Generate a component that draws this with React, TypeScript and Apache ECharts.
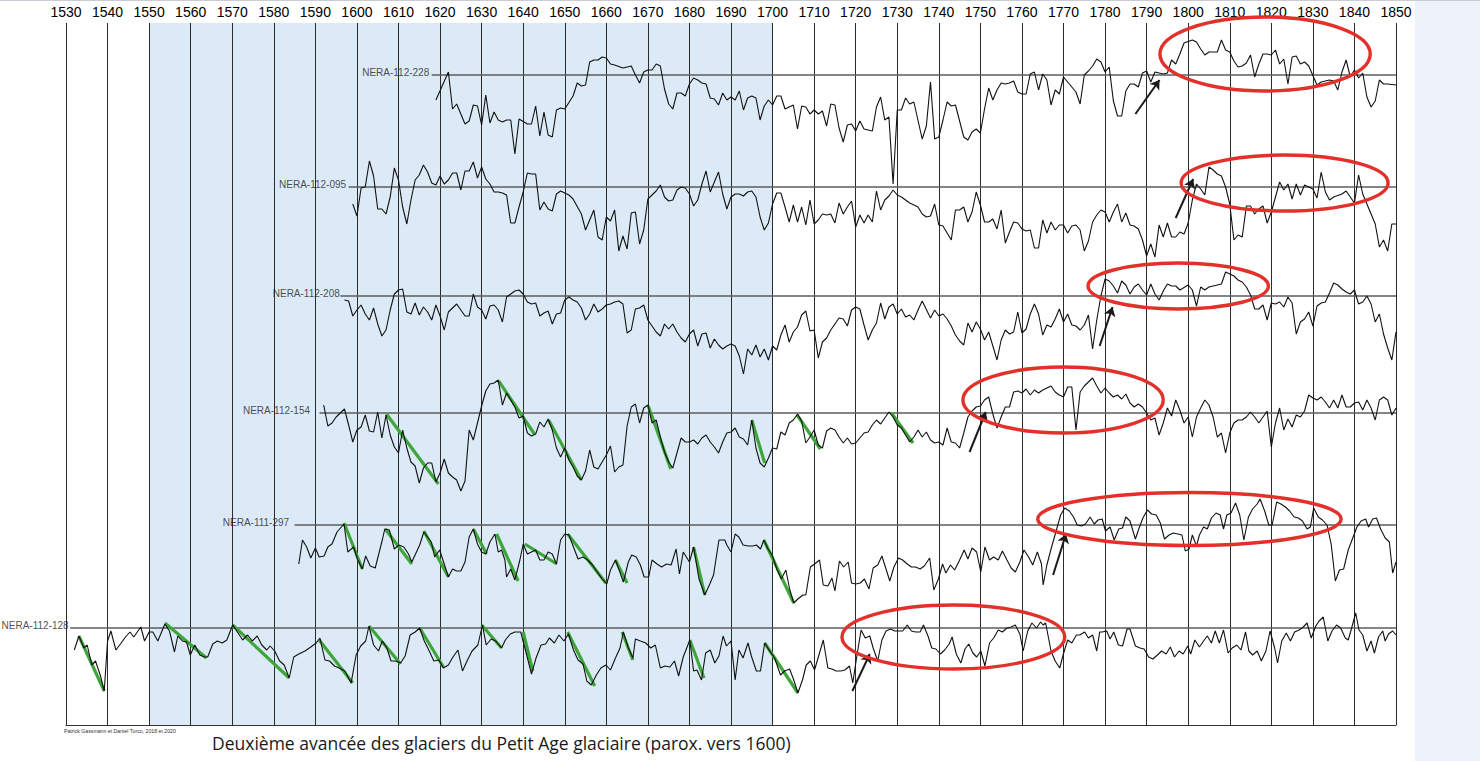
import React, { useEffect, useRef } from "react";
import * as echarts from "echarts";

// ---------- axis / layout constants ----------
const YEAR_MIN = 1530;
const YEAR_MAX = 1850;
const YEAR_STEP = 10;
const SHADED_PERIOD = [1550, 1700];

// ---------- series meta ----------
const SERIES_NAMES = ["NERA-112-228", "NERA-112-095", "NERA-112-208", "NERA-112-154", "NERA-111-297", "NERA-112-128"];
// vertical offset of each curve's reference line (axis units)
const BASELINES = [650, 538, 429, 312, 200, 97];
const REF_START = [1618, 1598, 1596, 1591, 1585, 1531];
const LABEL_GAP = [2, 2, 0, 9, 5, 1];

// ---------- series values: [year, deviation from reference line] ----------
const S228 = [[1619,-25],[1622,3],[1623,-34],[1624,-29],[1626,-49],[1627,-46],[1628,-30],[1629,-31],[1630,-50],[1631,-20],[1632,-48],[1633,-37],[1634,-45],[1635,-47],[1636,-45],[1637,-45],[1638,-79],[1639,-44],[1641,-49],[1642,-49],[1643,-31],[1644,-61],[1645,-37],[1646,-60],[1647,-62],[1648,-35],[1649,-33],[1650,-34],[1652,-21],[1653,-8],[1654,-11],[1655,-10],[1656,13],[1657,15],[1658,15],[1659,18],[1660,17],[1661,11],[1662,10],[1664,7],[1665,8],[1666,9],[1667,0],[1668,-8],[1669,3],[1670,5],[1671,5],[1672,11],[1673,9],[1674,-14],[1675,-29],[1676,-34],[1677,-18],[1678,-18],[1679,-21],[1680,-9],[1681,-3],[1682,-5],[1683,-8],[1684,-9],[1685,-23],[1686,-24],[1687,-30],[1688,-18],[1689,-25],[1690,-22],[1691,-25],[1692,-16],[1693,-35],[1694,-23],[1695,-21],[1696,-23],[1697,-45],[1698,-31],[1699,-25],[1700,-30],[1701,-21],[1702,-21],[1703,-34],[1704,-32],[1705,-30],[1706,-54],[1707,-31],[1708,-32],[1709,-39],[1710,-35],[1711,-39],[1712,-36],[1713,-51],[1714,-29],[1715,-30],[1716,-53],[1717,-67],[1718,-50],[1719,-49],[1720,-56],[1721,-46],[1722,-54],[1723,-55],[1724,-56],[1725,-32],[1726,-22],[1727,-45],[1728,-42],[1729,-109],[1730,-35],[1731,-35],[1732,-23],[1733,-29],[1734,-27],[1736,-64],[1737,-51],[1738,-7],[1739,-64],[1740,-62],[1741,-45],[1742,-27],[1743,-31],[1744,-30],[1746,-62],[1747,-65],[1748,-57],[1749,-54],[1750,-58],[1751,-34],[1752,-13],[1753,-25],[1754,-15],[1755,-8],[1756,-9],[1757,-8],[1758,-6],[1759,-17],[1760,-19],[1761,-19],[1762,1],[1763,3],[1764,-15],[1765,1],[1766,-5],[1767,-30],[1768,-15],[1769,-19],[1770,-2],[1771,-7],[1772,-12],[1773,-17],[1774,-29],[1775,0],[1776,4],[1777,9],[1778,16],[1779,13],[1780,3],[1781,8],[1782,-26],[1783,-41],[1784,-41],[1785,-16],[1786,-9],[1787,-9],[1788,-12],[1789,2],[1790,4],[1791,-7],[1792,3],[1793,2],[1794,1],[1795,2],[1796,15],[1797,11],[1798,21],[1799,32],[1801,35],[1802,33],[1803,26],[1804,20],[1805,23],[1806,23],[1807,23],[1808,35],[1809,25],[1810,23],[1811,14],[1812,8],[1813,9],[1814,12],[1815,20],[1816,-2],[1817,11],[1818,21],[1819,21],[1820,20],[1821,25],[1822,11],[1823,16],[1824,-9],[1825,18],[1826,19],[1827,11],[1828,13],[1829,9],[1831,-10],[1832,-7],[1834,-5],[1835,-6],[1836,-15],[1837,3],[1838,15],[1839,-2],[1840,5],[1841,-3],[1842,2],[1843,-22],[1844,-32],[1845,-26],[1846,-5],[1847,-9],[1848,-9],[1850,-10]];

const S095 = [[1599,-17],[1600,-29],[1601,-1],[1602,0],[1603,26],[1604,11],[1605,-22],[1606,-22],[1607,-27],[1608,-10],[1609,19],[1610,7],[1611,-20],[1612,-37],[1613,-13],[1614,7],[1615,12],[1616,22],[1617,15],[1618,4],[1619,2],[1620,11],[1621,3],[1622,7],[1623,14],[1624,14],[1625,-3],[1626,16],[1627,16],[1628,25],[1629,9],[1630,20],[1631,8],[1632,3],[1633,-5],[1634,-5],[1635,-6],[1636,-8],[1637,-36],[1638,-36],[1639,-20],[1640,-5],[1641,14],[1642,13],[1643,13],[1644,-23],[1645,-15],[1646,-22],[1647,-24],[1648,-7],[1649,-4],[1651,-8],[1652,-12],[1654,-27],[1655,-43],[1656,-33],[1657,-23],[1658,-50],[1659,-53],[1660,-30],[1661,-34],[1662,-23],[1663,-64],[1664,-49],[1665,-62],[1666,-26],[1667,-25],[1668,-57],[1669,-43],[1670,-12],[1671,-8],[1672,-4],[1673,2],[1674,-10],[1675,-14],[1676,-13],[1677,-3],[1678,0],[1679,-1],[1680,-7],[1681,-19],[1682,-13],[1683,3],[1684,16],[1685,-5],[1686,5],[1687,15],[1688,-7],[1689,-22],[1690,-10],[1691,-7],[1692,-7],[1693,-9],[1694,-5],[1695,-4],[1696,-10],[1697,-30],[1698,-43],[1699,-36],[1700,-17],[1701,-6],[1702,-6],[1703,-20],[1704,-35],[1705,-18],[1706,-35],[1707,-20],[1708,-38],[1709,-13],[1710,-37],[1711,-33],[1712,-27],[1713,-28],[1714,-27],[1715,-36],[1716,-16],[1717,-27],[1718,-20],[1719,-14],[1720,-40],[1721,-28],[1722,-36],[1723,-28],[1724,-35],[1725,-4],[1726,-23],[1727,-13],[1728,-9],[1729,-3],[1730,-8],[1731,-10],[1732,-13],[1733,-16],[1735,-20],[1736,-27],[1737,-30],[1738,-29],[1739,-17],[1740,-38],[1741,-39],[1742,-46],[1743,-53],[1744,-23],[1745,-23],[1746,-20],[1747,-35],[1748,-25],[1749,-5],[1750,-18],[1751,-35],[1752,-35],[1753,-32],[1754,-42],[1755,-23],[1756,-56],[1757,-45],[1758,-35],[1759,-36],[1760,-42],[1761,-44],[1762,-43],[1763,-61],[1764,-61],[1765,-33],[1766,-46],[1767,-35],[1768,-43],[1769,-38],[1770,-38],[1771,-46],[1772,-39],[1773,-38],[1774,-43],[1775,-64],[1776,-54],[1777,-35],[1778,-28],[1779,-23],[1780,-25],[1781,-35],[1782,-25],[1783,-17],[1784,-35],[1785,-26],[1786,-38],[1787,-39],[1788,-42],[1789,-53],[1790,-69],[1791,-57],[1792,-70],[1793,-38],[1794,-50],[1795,-36],[1796,-50],[1797,-50],[1798,-45],[1799,-47],[1800,-36],[1801,-13],[1802,3],[1803,-2],[1804,-8],[1805,20],[1806,17],[1807,13],[1808,11],[1809,0],[1810,-17],[1811,-53],[1812,-48],[1813,-50],[1814,-19],[1815,-19],[1816,-27],[1817,-22],[1818,-19],[1819,-36],[1820,-25],[1821,-10],[1822,5],[1823,-3],[1824,3],[1825,-12],[1826,3],[1827,-8],[1828,2],[1829,0],[1830,-2],[1831,-11],[1832,15],[1833,-5],[1834,-13],[1835,-10],[1837,-7],[1838,-4],[1839,-10],[1840,-16],[1841,12],[1842,-7],[1843,-17],[1844,-27],[1845,-37],[1846,-60],[1847,-53],[1848,-64],[1849,-37],[1850,-37]];

const S208 = [[1597,-4],[1598,-5],[1599,-20],[1600,-14],[1601,-9],[1602,-18],[1603,-24],[1604,-12],[1605,-28],[1606,-40],[1607,-34],[1608,-14],[1609,2],[1610,6],[1611,7],[1612,-16],[1613,-18],[1614,-7],[1615,-19],[1616,-11],[1617,-16],[1618,-24],[1619,-9],[1620,-20],[1621,-34],[1622,-16],[1623,-12],[1624,-8],[1625,-14],[1626,-20],[1627,-20],[1628,2],[1629,-11],[1630,-14],[1631,-23],[1632,-10],[1633,-9],[1634,-14],[1635,-26],[1636,-1],[1637,2],[1638,5],[1639,6],[1640,2],[1641,-6],[1642,-8],[1643,-7],[1644,-20],[1645,-17],[1646,-15],[1647,-28],[1648,-18],[1649,-17],[1650,-4],[1651,-1],[1652,-4],[1653,-6],[1654,-12],[1655,-24],[1656,-18],[1657,-8],[1658,-16],[1659,-13],[1660,-9],[1661,-8],[1662,-6],[1663,-5],[1664,-8],[1665,-37],[1666,-34],[1667,-13],[1668,-12],[1669,-9],[1670,-24],[1671,-30],[1672,-36],[1673,-40],[1674,-28],[1675,-33],[1676,-28],[1677,-36],[1678,-42],[1679,-46],[1680,-38],[1681,-34],[1682,-50],[1683,-38],[1684,-37],[1685,-52],[1686,-43],[1687,-49],[1688,-53],[1689,-50],[1690,-48],[1691,-50],[1692,-60],[1693,-78],[1694,-53],[1695,-59],[1696,-49],[1697,-61],[1698,-53],[1699,-64],[1700,-50],[1701,-54],[1702,-39],[1703,-29],[1704,-46],[1705,-36],[1706,-31],[1707,-19],[1708,-15],[1709,-35],[1710,-34],[1711,-62],[1712,-46],[1713,-42],[1714,-34],[1715,-28],[1716,-22],[1717,-23],[1718,-30],[1719,-14],[1720,-11],[1721,-13],[1722,-29],[1723,-44],[1724,-34],[1725,-27],[1726,-7],[1727,-23],[1728,-11],[1729,-8],[1730,-18],[1731,-13],[1732,-21],[1733,-19],[1734,-24],[1735,-14],[1736,-5],[1738,-22],[1739,-14],[1740,-20],[1741,-18],[1742,-23],[1743,-30],[1744,-39],[1745,-45],[1746,-49],[1747,-27],[1748,-36],[1749,-26],[1750,-33],[1751,-44],[1752,-36],[1753,-50],[1754,-64],[1755,-44],[1756,-34],[1757,-38],[1758,-36],[1759,-16],[1760,-37],[1761,-33],[1762,-18],[1763,-8],[1764,-18],[1765,-39],[1766,-29],[1767,-31],[1768,-23],[1769,-13],[1770,-26],[1771,-18],[1772,-29],[1773,-30],[1774,-34],[1775,-29],[1776,-19],[1777,-53],[1778,-24],[1779,0],[1780,17],[1781,15],[1782,10],[1783,3],[1784,15],[1785,11],[1786,2],[1787,9],[1788,12],[1789,6],[1790,1],[1791,12],[1792,2],[1793,-4],[1794,5],[1795,12],[1796,10],[1797,10],[1798,6],[1800,11],[1801,6],[1802,-10],[1803,9],[1804,6],[1805,9],[1806,10],[1807,11],[1808,12],[1809,24],[1810,22],[1811,20],[1812,16],[1813,14],[1814,9],[1815,1],[1816,-13],[1817,-13],[1818,-9],[1819,-24],[1820,-7],[1821,-8],[1822,-6],[1823,-11],[1824,-1],[1825,-7],[1826,-38],[1827,-26],[1828,-23],[1829,-16],[1830,-30],[1831,-10],[1832,-7],[1833,-6],[1834,3],[1835,13],[1836,11],[1837,7],[1838,4],[1839,2],[1840,6],[1841,-8],[1842,-6],[1843,0],[1844,-8],[1845,-26],[1846,-18],[1847,-38],[1848,-52],[1849,-64],[1850,-36]];

const S154 = [[1592,8],[1593,-13],[1594,-10],[1595,-4],[1597,4],[1598,-12],[1599,-29],[1600,-17],[1601,-14],[1602,-2],[1603,-18],[1604,-19],[1605,1],[1606,-25],[1607,-2],[1608,-22],[1609,-34],[1610,-40],[1611,-17],[1612,-35],[1613,-49],[1614,-53],[1615,-70],[1616,-55],[1617,-50],[1618,-50],[1619,-69],[1620,-60],[1621,-46],[1622,-60],[1623,-64],[1624,-67],[1625,-78],[1626,-68],[1627,-17],[1628,-27],[1629,-10],[1630,7],[1631,22],[1632,29],[1633,30],[1634,33],[1635,8],[1636,20],[1637,13],[1638,6],[1639,-5],[1640,-3],[1641,-20],[1642,-23],[1643,-21],[1644,-9],[1645,-14],[1646,-6],[1647,-17],[1648,-35],[1649,-44],[1650,-35],[1651,-47],[1652,-54],[1653,-63],[1654,-67],[1655,-58],[1656,-37],[1657,-54],[1658,-56],[1659,-49],[1660,-42],[1661,-33],[1662,-59],[1663,-54],[1664,-52],[1665,-13],[1666,6],[1667,9],[1668,-10],[1669,5],[1670,8],[1671,-10],[1672,-7],[1673,-24],[1674,-39],[1675,-49],[1676,-55],[1677,-40],[1678,-25],[1679,-29],[1680,-29],[1681,-27],[1682,-31],[1683,-25],[1684,-22],[1685,-29],[1686,-34],[1687,-40],[1688,-29],[1689,-20],[1690,-19],[1691,-15],[1692,-24],[1693,-26],[1694,-32],[1695,-7],[1696,-35],[1697,-50],[1698,-54],[1699,-45],[1700,-35],[1701,-36],[1702,-19],[1703,-22],[1704,-10],[1705,-7],[1706,-1],[1707,-8],[1708,-30],[1709,-24],[1710,-17],[1711,-32],[1712,-35],[1713,-18],[1714,-15],[1715,-17],[1716,-24],[1717,-30],[1718,-25],[1719,-31],[1720,-30],[1721,-25],[1722,-20],[1723,-19],[1724,-12],[1725,-7],[1726,-11],[1727,-5],[1728,1],[1729,-4],[1730,-12],[1731,-15],[1732,-22],[1733,-29],[1734,-24],[1735,-17],[1736,-24],[1737,-19],[1738,-27],[1739,-30],[1740,-29],[1741,-32],[1742,-15],[1743,-29],[1744,-30],[1745,-35],[1746,-20],[1747,-4],[1748,2],[1749,6],[1750,7],[1751,13],[1752,16],[1753,-1],[1754,-15],[1755,-4],[1756,6],[1757,6],[1758,21],[1759,22],[1760,20],[1761,24],[1762,18],[1763,23],[1764,20],[1765,23],[1766,25],[1767,27],[1768,21],[1769,18],[1770,16],[1771,26],[1772,26],[1773,-17],[1774,21],[1775,27],[1776,31],[1777,35],[1778,27],[1779,20],[1780,25],[1781,20],[1782,16],[1783,18],[1784,14],[1785,19],[1786,10],[1787,6],[1788,9],[1789,6],[1790,0],[1791,-7],[1792,-5],[1793,-22],[1794,-10],[1795,5],[1796,-3],[1797,13],[1798,3],[1799,-10],[1800,-4],[1801,-24],[1802,-4],[1803,5],[1804,13],[1805,8],[1806,-4],[1807,-24],[1808,-20],[1809,-40],[1810,-20],[1811,-10],[1812,-7],[1813,-7],[1814,-4],[1815,1],[1816,-4],[1817,-10],[1818,-4],[1819,2],[1820,-34],[1821,-10],[1822,5],[1823,-17],[1824,-6],[1825,-14],[1826,-2],[1827,-4],[1828,2],[1829,18],[1830,15],[1831,13],[1832,16],[1833,11],[1834,5],[1835,13],[1836,5],[1837,18],[1838,6],[1839,6],[1840,10],[1841,11],[1842,3],[1843,13],[1844,5],[1845,-7],[1846,13],[1847,16],[1848,13],[1849,-2],[1850,5]];

const S297 = [[1586.0,-39],[1586.9,-15],[1587.9,-22],[1588.9,-33],[1590.0,-23],[1590.9,-32],[1592.1,-31],[1593.0,-22],[1594.0,-19],[1595.2,-7],[1596.9,1],[1597.8,-27],[1599.2,-22],[1600.1,-34],[1601.3,-44],[1602.1,-31],[1603.2,-41],[1604.4,-43],[1606.1,-15],[1606.7,-4],[1607.8,-5],[1609.0,-24],[1610.1,-20],[1611.3,-22],[1612.4,-29],[1613.2,-37],[1614.1,-29],[1615.1,-20],[1616.1,-7],[1617.0,-12],[1617.9,-17],[1618.7,-32],[1619.9,-25],[1621.0,-39],[1622,-52],[1623,-44],[1624,-46],[1625,-46],[1626,-37],[1627,-12],[1628,-4],[1629,-19],[1630,-27],[1631,-29],[1632,-17],[1633.2,-9],[1634,-27],[1634.8,-25],[1635.6,-35],[1636,-52],[1637,-44],[1638,-55],[1639.2,-35],[1640,-19],[1641,-29],[1642,-27],[1643,-25],[1644,-35],[1645,-35],[1646,-27],[1647,-29],[1648,-39],[1649,-15],[1650,-9],[1651,-10],[1652.1,-22],[1653.2,-34],[1654.4,-32],[1655.5,-35],[1656.7,-40],[1657.8,-47],[1659.0,-54],[1660.1,-59],[1661.0,-45],[1662.2,-35],[1663.0,-44],[1664.1,-57],[1665.3,-37],[1666.1,-30],[1667.2,-32],[1668.2,-40],[1669.1,-52],[1670.2,-52],[1671.0,-35],[1672.2,-39],[1673.3,-42],[1674.5,-39],[1675.6,-40],[1676.8,-24],[1677.6,-49],[1678.5,-27],[1680.0,-37],[1681.0,-22],[1682.3,-54],[1683.7,-70],[1684.9,-59],[1685.8,-50],[1687.1,-15],[1688.5,-15],[1689.0,-20],[1690,-27],[1691,-9],[1691.9,-12],[1692.9,-20],[1694.1,-21],[1695.3,-21],[1696.1,-20],[1697.1,-24],[1697.9,-15],[1698.9,-24],[1699.9,-30],[1701.1,-45],[1702.1,-54],[1703.2,-45],[1704.1,-64],[1705.1,-78],[1706.1,-74],[1707.3,-70],[1708,-70],[1709.1,-42],[1710.1,-39],[1711.3,-35],[1712.2,-60],[1713.3,-61],[1714.3,-53],[1715,-66],[1716.1,-36],[1717.1,-42],[1718.2,-37],[1719,-58],[1720,-59],[1721.1,-58],[1722.1,-54],[1723.2,-64],[1724.2,-43],[1725.3,-40],[1726.3,-31],[1727.3,-44],[1728.2,-56],[1729.2,-42],[1730.3,-33],[1731.3,-35],[1732.4,-39],[1733.4,-42],[1734.4,-42],[1735.5,-44],[1736.5,-41],[1737.8,-33],[1738.8,-65],[1739.9,-54],[1740.9,-39],[1741.7,-48],[1742.8,-40],[1743.8,-45],[1744.9,-36],[1746.1,-25],[1747,-34],[1748,-23],[1749.1,-27],[1750.1,-47],[1751.1,-22],[1752.2,-35],[1753.2,-32],[1754.3,-35],[1755.3,-26],[1756.4,-35],[1757.4,-43],[1758.4,-47],[1759.5,-37],[1760.5,-25],[1761.6,-32],[1762.6,-40],[1763.7,-27],[1764.7,-39],[1765.1,-60],[1766,-40],[1767,-24],[1768.3,-5],[1769.3,10],[1770.3,17],[1771.4,14],[1772.4,8],[1773.3,0],[1774.3,-1],[1775.3,1],[1776.4,8],[1777.4,1],[1778.3,5],[1779.3,6],[1780.1,-6],[1781.2,-2],[1782.2,-15],[1783.3,-4],[1784.2,-3],[1785,8],[1786,4],[1787.3,-14],[1788.1,-4],[1789.1,7],[1790.2,15],[1791.2,11],[1792.3,10],[1793.3,2],[1794.3,-14],[1795.4,-10],[1796.4,-8],[1797.5,-9],[1798.5,-10],[1799.3,-26],[1800.2,-24],[1801,-10],[1802,-21],[1802.7,-10],[1803.7,-2],[1804.6,-4],[1805.6,7],[1806.7,12],[1807.7,10],[1808.5,-4],[1809.3,10],[1810.3,12],[1811.4,22],[1812.4,10],[1813.4,-15],[1814.5,8],[1815.5,16],[1816.6,21],[1817.3,26],[1818.4,14],[1819.4,0],[1820.2,0],[1821.3,23],[1822.3,21],[1823.4,18],[1824.4,14],[1825.5,8],[1826.5,7],[1827.5,4],[1828.6,-4],[1829.4,-2],[1830.2,17],[1831.3,8],[1832.3,5],[1833.4,0],[1834.4,-19],[1835.4,-56],[1836.4,-45],[1837.4,-44],[1838.5,-25],[1839.5,-14],[1840.6,-2],[1841.6,4],[1842.7,6],[1843.4,-2],[1844.4,6],[1845.3,7],[1846.3,-4],[1847.4,-13],[1848.4,-17],[1849.2,-48],[1850,-37]];

const S128 = [[1532.0,-22],[1533.1,-8],[1534.3,-20],[1535.1,-17],[1536.2,-37],[1537.1,-33],[1538.3,-48],[1539.2,-63],[1540,-13],[1540.8,-3],[1542,-22],[1543.1,-16],[1544.3,-9],[1545.4,-4],[1546.3,-9],[1548,1],[1548.9,-13],[1550,-4],[1550.9,-4],[1552.1,-13],[1553.8,4],[1554.9,-3],[1556.1,-24],[1556.9,-8],[1558,-13],[1559,-14],[1559.9,-27],[1561,-17],[1562.2,-27],[1563.3,-29],[1564.1,-29],[1565.3,-16],[1566.4,-13],[1567.6,-15],[1568.7,-12],[1570.1,3],[1571.4,-5],[1572.5,-12],[1573.7,-7],[1574.8,-13],[1576,-8],[1577.1,-17],[1578.3,-22],[1579.1,-18],[1580.2,-23],[1581.4,-33],[1582.5,-37],[1583.7,-50],[1584.8,-29],[1586,-26],[1587.5,-23],[1588.9,-19],[1590.2,-15],[1591.1,-10],[1592.3,-32],[1593.4,-33],[1594.6,-38],[1595.7,-40],[1597.1,-43],[1598.6,-55],[1599.8,-27],[1600.9,-18],[1602.1,-13],[1602.9,2],[1604,-17],[1605.2,-23],[1606.1,-13],[1607.2,-20],[1608.2,-33],[1609.3,-33],[1610.5,-35],[1611.6,-28],[1612.8,-7],[1614,-4],[1615.1,0],[1616.2,-13],[1617.4,-23],[1618.5,-33],[1619.7,-32],[1620.8,-40],[1622,-37],[1623.1,-29],[1624.3,-22],[1625.4,-43],[1626.6,-32],[1627.7,-23],[1629.1,-17],[1630.2,3],[1631.1,-17],[1632.3,-11],[1633.4,-13],[1634.8,-20],[1635.7,-12],[1636.9,-6],[1638,-4],[1639.4,-4],[1640.6,-23],[1642,-46],[1643.1,-30],[1644.3,-17],[1645.4,-16],[1646.3,-10],[1647.5,-15],[1648.6,-7],[1649.8,-13],[1650.9,-6],[1652.1,-22],[1653.2,-32],[1654.4,-36],[1655.3,-53],[1656.4,-57],[1657.6,-47],[1658.7,-40],[1659.9,-37],[1661,-42],[1662.2,-30],[1663.3,-20],[1664.1,-4],[1665.3,-20],[1666.4,-30],[1667,-11],[1668.2,-13],[1669.5,-15],[1670.7,-20],[1671.8,-17],[1673,-40],[1674.1,-38],[1675.3,-39],[1676.4,-33],[1677.4,-48],[1678.5,-29],[1680.1,-12],[1681,-43],[1681.8,-42],[1682.9,-52],[1683.9,-25],[1685,-22],[1686.1,-35],[1687.1,-28],[1688.1,-8],[1688.9,-18],[1690,-13],[1691,-52],[1691.9,-22],[1692.9,-30],[1694.1,-15],[1694.9,-28],[1696.1,-43],[1697.1,-43],[1698.1,-15],[1699.3,-23],[1700.5,-30],[1701.9,-47],[1702.9,-43],[1704.1,-41],[1705.1,-52],[1706.1,-65],[1707.2,-52],[1708.1,-37],[1709.1,-33],[1710.1,-42],[1711.3,-25],[1712.2,-12],[1713.3,-40],[1714.3,-41],[1715.3,-43],[1716.4,-43],[1717.4,-42],[1718.5,-38],[1719.3,-55],[1720.2,-30],[1721.3,-2],[1722.3,-10],[1723.4,-8],[1724.2,-20],[1725.3,-33],[1726.3,-12],[1727.3,-3],[1728.4,-1],[1729.4,-3],[1730.5,-3],[1731.3,-3],[1732.4,3],[1733.4,-3],[1734.4,-4],[1735.5,-4],[1736.3,3],[1737.4,-8],[1738.3,-20],[1739.3,-21],[1740.4,-26],[1741.4,-22],[1742.5,-16],[1743.2,-9],[1744.2,-26],[1745.3,-35],[1746.3,-21],[1747.2,-16],[1748.2,-25],[1749.1,-29],[1750.1,-23],[1751.1,-38],[1752.2,-15],[1753.2,-10],[1754.3,-2],[1755.3,-4],[1756.4,0],[1757.4,1],[1758.4,3],[1759.5,-6],[1760.3,-23],[1761.4,-3],[1762.4,5],[1763.5,0],[1764.5,6],[1765.1,3],[1765.7,5],[1767,-23],[1768,-33],[1769.1,-40],[1769.9,-27],[1771,-12],[1772,-15],[1773.1,-7],[1773.9,-7],[1775.1,-4],[1776,-10],[1777,-7],[1778,-23],[1778.7,-4],[1779.3,-4],[1780.4,-3],[1781.2,-11],[1782.1,-4],[1783.2,-17],[1784.2,-18],[1785.3,-1],[1786,-1],[1787.3,-18],[1788.4,-20],[1789.4,-21],[1790.5,-29],[1791.5,-31],[1792.6,-27],[1793.6,-23],[1794.7,-26],[1795.7,-19],[1796.7,-29],[1797.8,-23],[1798.8,-26],[1799.9,-18],[1800.6,-26],[1801.6,-12],[1802.7,-19],[1803.7,-13],[1804.6,-8],[1805.6,-15],[1806.5,-3],[1807.5,-15],[1808.5,-2],[1809.6,-25],[1810.6,-20],[1811.7,-17],[1812.7,-22],[1813.8,-4],[1814.6,-23],[1815.5,-27],[1816.6,-23],[1817.6,-33],[1818.7,-23],[1819.7,-3],[1820.8,-20],[1821.5,-35],[1822.5,-13],[1823.6,-5],[1824.6,-13],[1825.6,-4],[1826.7,-2],[1827.7,1],[1828.6,5],[1829.6,-10],[1830.7,2],[1831.5,7],[1832.5,11],[1833.6,-13],[1834.6,-3],[1835.7,3],[1836.7,0],[1837.8,-10],[1838.5,-12],[1839.2,-2],[1840.3,15],[1841.1,-2],[1842,-7],[1843,-23],[1844,-13],[1844.8,-25],[1845.8,-9],[1846.8,-3],[1847.4,-13],[1848.2,-6],[1849.2,-3],[1850,-7]];

const SERIES_VALUES = [S228, S095, S208, S154, S297, S128];

// green decline segments: [seriesIndex, year1, dev1, year2, dev2]
const DECLINES = [
  [3,1607.1,-1,1619.6,-71],[3,1634.1,32,1642.7,-21],[3,1646.1,-7,1654.0,-67],[3,1670.1,7,1675.5,-56],[3,1695.0,-7,1698.1,-50],[3,1705.9,-2,1711.5,-36],[3,1728.6,0,1733.8,-30],
  [4,1596.9,2,1601.3,-44],[4,1606.8,-4,1613.2,-39],[4,1616.1,-6,1622,-52],[4,1628,-4,1631.2,-29],[4,1633.6,-9,1638.8,-56],[4,1640.4,-19,1648.1,-39],[4,1650.7,-9,1659.9,-58],[4,1662.2,-35,1665,-58],[4,1681,-22,1683.7,-70],[4,1697.9,-15,1705.1,-78],
  [5,1533.1,-8,1539.2,-63],[5,1553.8,5,1563.8,-30],[5,1570.1,3,1583.7,-50],[5,1590.9,-12,1599,-55],[5,1602.9,2,1610.5,-36],[5,1615.1,0,1620.8,-39],[5,1630,3,1634.8,-20],[5,1640,-4,1642.3,-43],[5,1650.7,-4,1657.2,-58],[5,1663.8,-4,1666.4,-32],[5,1680.1,-12,1683.5,-50],[5,1698.1,-15,1706.1,-65],
];

// arrows marking the onset of growth recovery: [seriesIndex, year1, dev1, year2, dev2]
const ARROWS = [
  [0,1787.3,-39,1793.1,-5],[1,1797.0,-31,1801.2,8],[2,1778.7,-50,1781.8,-11],
  [3,1747.4,-39,1751.3,1],[4,1767.5,-50,1770.6,-9],[5,1719.2,-63,1723.4,-26],
];

// highlighted periods: [seriesIndex, centerYear, centerDev, halfSpanYears, halfSpanDev]
const HIGHLIGHTS = [
  [0,1818.5,21,25.3,37],[1,1823.2,4,24.9,28],[2,1797.6,10,21.7,23],
  [3,1769.9,13,24.1,33],[4,1800.3,6,36.5,26.5],[5,1743.5,-9,26.8,32],
];

const TITLE = "Deuxième avancée des glaciers du Petit Age glaciaire (parox. vers 1600)";
const CREDIT = "Patrick Gassmann et Daniel Turcu, 2018 et 2020";

const Y_MAX = 702;
const FONT = "'Liberation Sans', Arial, sans-serif";

export default function App() {
  const ref = useRef<HTMLDivElement>(null);

  useEffect(() => {
    document.body.style.margin = "0";
    if (!ref.current) return;
    const chart = echarts.init(ref.current, null, { renderer: "svg" });

    const series: any[] = [];

    // shaded period
    series.push({
      type: "custom",
      z: 1,
      silent: true,
      data: [[SHADED_PERIOD[0], SHADED_PERIOD[1], 0]],
      encode: { x: [0, 1], y: 2 },
      renderItem: (_p: any, api: any) => {
        const a = api.coord([api.value(0), Y_MAX]);
        const b = api.coord([api.value(1), 0]);
        return { type: "rect", shape: { x: a[0], y: a[1], width: b[0] - a[0], height: b[1] - a[1] }, style: { fill: "#dbeaf6" } };
      },
    });

    // reference lines
    SERIES_NAMES.forEach((name, i) => {
      series.push({
        type: "line",
        name: name + " ref",
        z: 3,
        silent: true,
        symbol: "none",
        data: [[REF_START[i], BASELINES[i]], [YEAR_MAX, BASELINES[i]]],
        lineStyle: { color: "#5c5c5c", width: 1.4 },
      });
    });

    // green decline segments
    series.push({
      type: "lines",
      coordinateSystem: "cartesian2d",
      z: 4,
      silent: true,
      data: DECLINES.map((d) => ({ coords: [[d[1], BASELINES[d[0]] + d[2]], [d[3], BASELINES[d[0]] + d[4]]] })),
      lineStyle: { color: "#3ea53a", width: 3.2, opacity: 1 },
    });

    // curves
    SERIES_VALUES.forEach((vals, i) => {
      series.push({
        type: "line",
        name: SERIES_NAMES[i],
        z: 5,
        silent: true,
        symbol: "none",
        showSymbol: false,
        data: vals.map((p) => [p[0], BASELINES[i] + p[1]]),
        lineStyle: { color: "#111", width: 1.1 },
      });
    });

    // labels, placed at the start of each reference line
    series.push({
      type: "scatter",
      z: 6,
      silent: true,
      symbolSize: 1,
      itemStyle: { color: "rgba(0,0,0,0)" },
      data: SERIES_NAMES.map((n, i) => ({
        value: [REF_START[i], BASELINES[i]],
        name: n,
        label: { distance: LABEL_GAP[i] },
      })),
      label: {
        show: true,
        position: "left",
        offset: [0, -3],
        formatter: (p: any) => p.name,
        fontSize: 10,
        fontFamily: FONT,
        color: "#222",
      },
    });

    // arrows
    series.push({
      type: "lines",
      coordinateSystem: "cartesian2d",
      z: 7,
      silent: true,
      symbol: ["none", "arrow"],
      symbolSize: 9,
      data: ARROWS.map((d) => ({ coords: [[d[1], BASELINES[d[0]] + d[2]], [d[3], BASELINES[d[0]] + d[4]]] })),
      lineStyle: { color: "#1a1a1a", width: 2, opacity: 1 },
    });

    // red ellipses
    series.push({
      type: "custom",
      z: 8,
      silent: true,
      clip: false,
      data: HIGHLIGHTS.map((h) => [h[1], BASELINES[h[0]] + h[2], h[3], h[4]]),
      encode: { x: 0, y: 1 },
      renderItem: (_p: any, api: any) => {
        const c = api.coord([api.value(0), api.value(1)]);
        const s = api.size([api.value(2), api.value(3)]);
        return {
          type: "ellipse",
          shape: { cx: c[0], cy: c[1], rx: s[0], ry: s[1] },
          style: { fill: "none", stroke: "#e3302b", lineWidth: 3.4 },
        };
      },
    });

    chart.setOption({
      animation: false,
      backgroundColor: "#ffffff",
      grid: { left: 66, right: 84, top: 23, bottom: 36, containLabel: false },
      xAxis: {
        type: "value",
        position: "top",
        min: YEAR_MIN,
        max: YEAR_MAX,
        interval: YEAR_STEP,
        z: 2,
        axisLine: { show: true, lineStyle: { color: "#333", width: 1 } },
        axisTick: { show: false },
        axisLabel: { fontSize: 14, color: "#000", margin: 4, fontFamily: FONT, formatter: (v: number) => String(v) },
        splitLine: { show: true, lineStyle: { color: "#2b2b2b", width: 1 } },
      },
      yAxis: { type: "value", min: 0, max: Y_MAX, show: false, splitLine: { show: false } },
      graphic: [
        { type: "rect", left: 1415, top: 0, shape: { width: 65, height: 761 }, style: { fill: "#eef2fa" }, z: 0, silent: true },
        { type: "line", shape: { x1: 0, y1: 0.5, x2: 1480, y2: 0.5 }, style: { stroke: "#c9ccd4", lineWidth: 1 }, silent: true },
        { type: "text", left: 64, top: 728, style: { text: CREDIT, fontSize: 5.2, fontFamily: FONT, fill: "#333" }, silent: true },
        { type: "text", left: 212, top: 734, style: { text: TITLE, fontSize: 17.5, fontFamily: "'Open Sans', sans-serif", fill: "#1a1a1a" }, silent: true },
      ],
      series,
    });

    return () => chart.dispose();
  }, []);

  return <div ref={ref} style={{ position: "absolute", left: 0, top: 0, width: 1480, height: 761 }} />;
}
